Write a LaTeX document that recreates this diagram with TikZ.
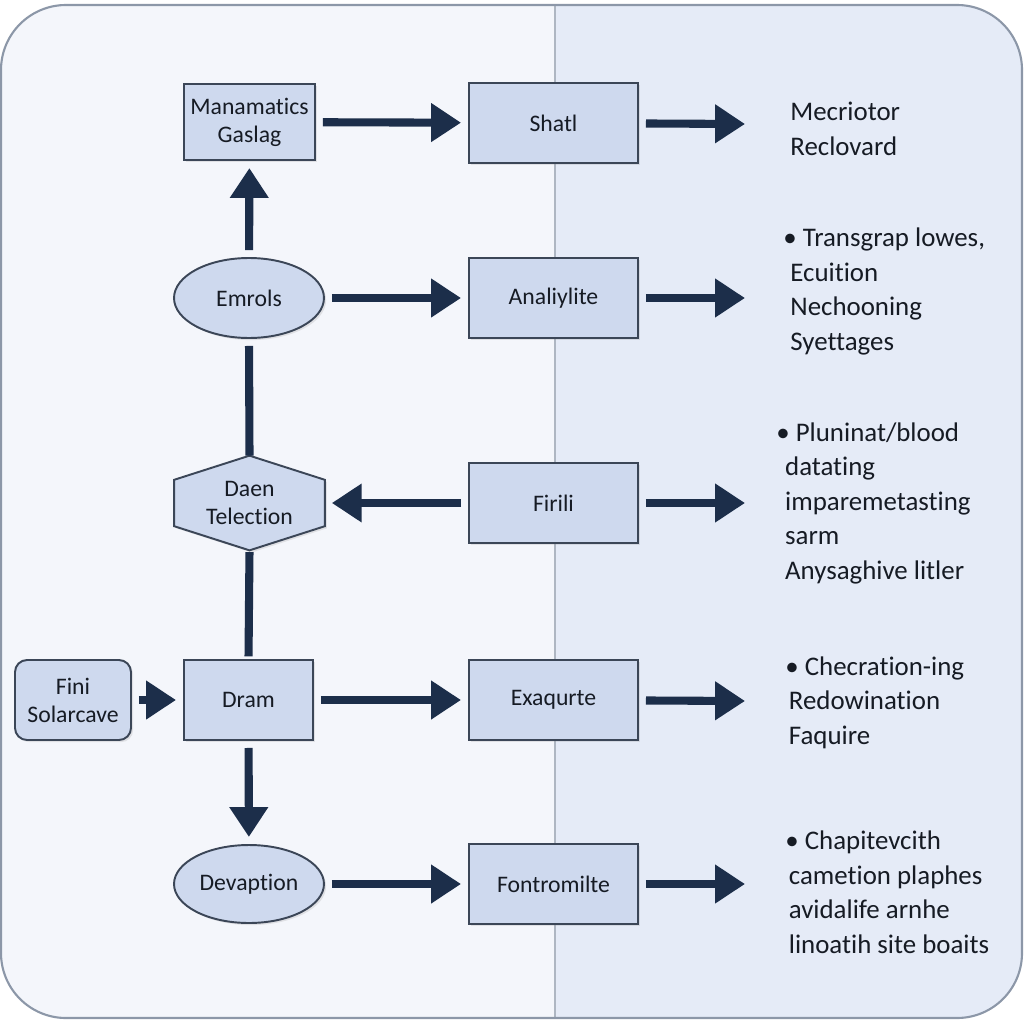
\documentclass[tikz,border=0pt]{standalone}
\usepackage{fontspec}
\setmainfont{Carlito}[Ligatures = NoCommon]
\usepackage{tikz}
\usetikzlibrary{arrows.meta,shapes.geometric,shadows,calc}

\definecolor{navy}{HTML}{1C2E4A}
\definecolor{boxfill}{HTML}{CED9EE}
\definecolor{boxline}{HTML}{3B4657}
\definecolor{leftbg}{HTML}{F4F6FB}
\definecolor{rightbg}{HTML}{E5EBF7}
\definecolor{frameline}{HTML}{8C97A8}
\definecolor{inktext}{HTML}{161B24}

\begin{document}
\begin{tikzpicture}
        [
            x = 0.02cm, y = -0.02cm,
            box/.style = {draw = boxline, line width = 1.1pt, fill = boxfill,
                drop shadow = {opacity = 0.18, shadow xshift = 1.2pt, shadow yshift = -1.2pt},
                align = center, inner sep = 0pt, text = inktext,
                font = \fontsize{13.5}{16}\selectfont},
            step box/.style = {box, minimum width = 3.38cm, minimum height = 1.6cm},
            oval/.style = {box, ellipse, minimum width = 3cm, minimum height = 1.6cm},
            flow/.style = {navy, line width = 4.6pt,
                -{Triangle[length = 17pt, width = 21pt]},
                shorten < = 4pt, shorten > = 4pt},
            link/.style = {navy, line width = 4.6pt},
            note/.style = {anchor = base west, align = left, inner sep = 0pt,
                text = inktext, font = \fontsize{15.3}{19.6}\selectfont}
        ]
        \useasboundingbox (0,0) rectangle (1024,1024);

        % panel
        \begin{scope}
            \clip[rounded corners = 1.3cm] (1,5) rectangle (1022,1018);
            \fill[leftbg] (0,0) rectangle (555,1024);
            \fill[rightbg] (555,0) rectangle (1024,1024);
        \end{scope}
        \draw[frameline!70, line width = 0.8pt] (555,5) -- (555,1018);
        \draw[frameline, line width = 1.2pt, rounded corners = 1.3cm] (1,5) rectangle (1022,1018);

        % left column
        \node[box, minimum width = 2.62cm, minimum height = 1.52cm] (mana) at (249.5,122) {Manamatics\\Gaslag};
        \node[oval] (emrols) at (249,298) {Emrols};
        \node[minimum width = 3cm, minimum height = 1.88cm, inner sep = 0pt] (daen) at (249.5,503) {};
        \node[box, rounded corners = 0.24cm, minimum width = 2.32cm, minimum height = 1.6cm] (fini) at (73,700) {Fini\\Solarcave};
        \node[box, minimum width = 2.58cm, minimum height = 1.6cm] (dram) at (248.5,700) {Dram};
        \node[oval, minimum height = 1.56cm] (devap) at (249,884) {Devaption};

        % hexagon round daen
        \draw[box] (daen.north)
            -- ($(daen.north east)!0.255!(daen.south east)$)
            -- ($(daen.north east)!0.745!(daen.south east)$)
            -- (daen.south)
            -- ($(daen.north west)!0.745!(daen.south west)$)
            -- ($(daen.north west)!0.255!(daen.south west)$)
            -- cycle;
        \node[align = center, text = inktext, font = \fontsize{13.5}{16}\selectfont] (daentext) at (daen) {Daen\\Telection};

        % middle column
        \node[step box] (shatl) at (553.5,123) {Shatl};
        \node[step box] (anal) at (553.5,298) {Analiylite};
        \node[step box] (firili) at (553.5,503) {Firili};
        \node[step box] (exaq) at (553.5,700) {Exaqurte};
        \node[step box] (fontro) at (553.5,884) {Fontromilte};

        % free ends
        \coordinate (endA) at (745,124);
        \coordinate (endB) at (745,298);
        \coordinate (endC) at (745,503);
        \coordinate (endD) at (745,701);
        \coordinate (endE) at (745,884);

        % arrows
        \draw[flow] (mana) -- (shatl);
        \draw[flow] (emrols) -- (anal);
        \draw[flow] (firili) -- (daen);
        \draw[flow] (fini) -- (dram);
        \draw[flow] (dram) -- (exaq);
        \draw[flow] (devap) -- (fontro);
        \draw[flow] (emrols) -- (mana);
        \draw[flow] (dram) -- (devap);
        \draw[link, shorten < = 4pt] (emrols.south) -- (daen.north);
        \draw[link, shorten < = 1pt, shorten > = 1.5pt] (daen.south) -- (dram.north);

        \draw[flow, shorten > = 0pt] (shatl) -- (endA);
        \draw[flow, shorten > = 0pt] (anal) -- (endB);
        \draw[flow, shorten > = 0pt] (firili) -- (endC);
        \draw[flow, shorten > = 0pt] (exaq) -- (endD);
        \draw[flow, shorten > = 0pt] (fontro) -- (endE);

        % notes (anchored on the last line)
        \node[note] (noteA) at (790,155) {Mecriotor\\Reclovard};
        \node[note] (noteB) at (783,350) {\textbullet\ Transgrap lowes,\\\hspace{4pt}Ecuition\\\hspace{4pt}Nechooning\\\hspace{4pt}Syettages};
        \node[note] (noteC) at (776,579) {\textbullet\ Pluninat/blood\\\hspace{5pt}datating\\\hspace{5pt}imparemetasting\\\hspace{5pt}sarm\\\hspace{5pt}Anysaghive litler};
        \node[note] (noteD) at (785,744) {\textbullet\ Checration-ing\\\hspace{2pt}Redowination\\\hspace{2pt}Faquire};
        \node[note] (noteE) at (785,953) {\textbullet\ Chapitevcith\\\hspace{2pt}cametion plaphes\\\hspace{2pt}avidalife arnhe\\\hspace{2pt}linoatih site boaits};
        \end{tikzpicture}
\end{document}
